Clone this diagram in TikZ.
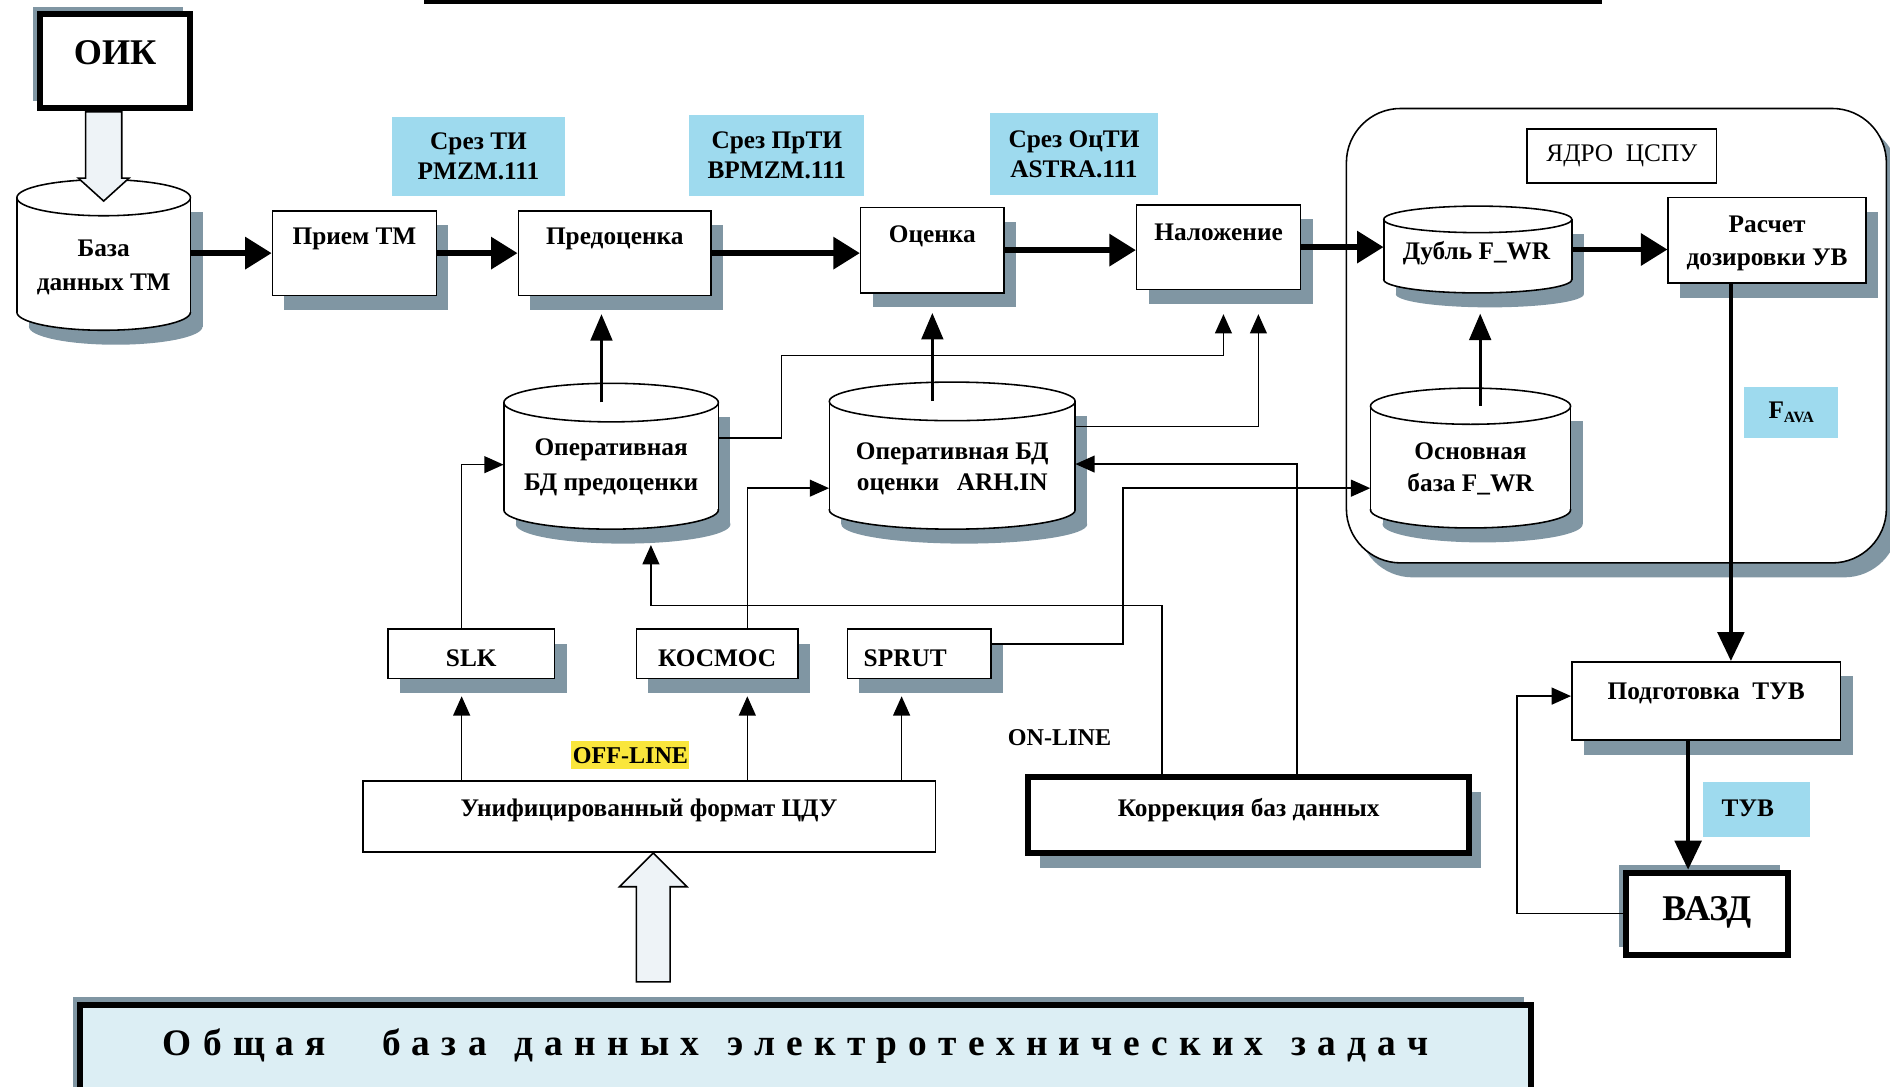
\documentclass[tikz,border=0pt]{standalone}
\usepackage{fontspec}
\setmainfont{Liberation Serif}
\usetikzlibrary{arrows.meta,shadows,calc}

\definecolor{shd}{RGB}{128,150,163}
\definecolor{tagcyan}{RGB}{158,218,238}
\definecolor{tagyellow}{RGB}{250,230,60}
\definecolor{basefill}{RGB}{220,238,244}
\definecolor{arrowfill}{RGB}{238,243,247}

% letter-spaced word for the bottom banner
\ExplSyntaxOn
\NewDocumentCommand\spreadword{m}{\tl_map_inline:nn{#1}{##1\hspace{0.3em}}}
\ExplSyntaxOff

\newcommand\lblfont{\fontsize{21}{26}\selectfont\bfseries}
\newcommand\bigfont{\fontsize{30}{34}\selectfont\bfseries}

% database cylinder: name, centre x, top y, bottom y, half width, ellipse radius
\newcommand\dbcyl[6]{%
  \fill[shd] ({#2-#5+10},{#3+12}) rectangle ({#2+#5+10},{#4+12});
  \fill[shd] ({#2+10},{#4+12}) ellipse [x radius=#5, y radius=#6];
  \fill[white] ({#2-#5},#3) rectangle ({#2+#5},#4);
  \fill[white] (#2,#4) ellipse [x radius=#5, y radius=#6];
  \fill[white] (#2,#3) ellipse [x radius=#5, y radius=#6];
  \draw[line width=1.3pt] ({#2-#5},#3) -- ({#2-#5},#4);
  \draw[line width=1.3pt] ({#2+#5},#3) -- ({#2+#5},#4);
  \begin{scope}
    \clip ({#2-#5-3},#4) rectangle ({#2+#5+3},{#4+#6+3});
    \draw[line width=1.3pt] (#2,#4) ellipse [x radius=#5, y radius=#6];
  \end{scope}
  \draw[line width=1.3pt] (#2,#3) ellipse [x radius=#5, y radius=#6];
  \node[inner sep=0pt, minimum width={2*#5}, minimum height={#4-#3}] (#1) at (#2,{(#3+#4)/2}) {};
}

\tikzset{
  lbl/.style={font=\lblfont, align=center, inner sep=0pt},
  block/.style={draw, fill=white, line width=1.3pt, inner sep=0pt},
  shadowed/.style={drop shadow={shadow xshift=10pt, shadow yshift=-12pt, fill=shd, opacity=1}},
  shadowul/.style={drop shadow={shadow xshift=-6pt, shadow yshift=6pt, fill=shd, opacity=1}},
  heavy/.style={line width=5pt},
  tag/.style={fill=tagcyan, inner sep=0pt, font=\lblfont, align=center},
  flow/.style={line width=4.5pt, -{Triangle[length=22pt,width=26pt]}},
  feed/.style={line width=2.5pt, -{Triangle[length=22pt,width=18pt]}},
  link/.style={line width=1.3pt, -{Triangle[length=16pt,width=14pt]}},
  vert/.style={line width=3.2pt, -{Triangle[length=24pt,width=22pt]}},
  hollow/.style={draw, line width=1.3pt, fill=arrowfill, line join=miter},
}

\begin{document}
\begin{tikzpicture}[x=1pt, y=-1pt]
\fill[white, use as bounding box] (0,0) rectangle (1568,901);
\clip (0,0) rectangle (1568,901);

% rule along the top edge
\draw[line width=3.5pt] (352,1.8) -- (1329,1.8);

% core container
\node[draw, fill=white, line width=1.3pt, rounded corners=45pt, shadowed,
      minimum width=448, minimum height=377] (core) at (1341,278.5) {};
\node[block, minimum width=157, minimum height=45,
      font=\fontsize{21}{26}\selectfont] (yadro) at (1345.5,129.5) {ЯДРО\hspace{0.5em}ЦСПУ};

% slice tags
\node[tag, minimum width=144, minimum height=66] (tag1) at (397,130) {Срез ТИ\\[-1pt]PMZM.111};
\node[tag, minimum width=145, minimum height=68] (tag2) at (644.5,129) {Срез ПрТИ\\[-1pt]BPMZM.111};
\node[tag, minimum width=140, minimum height=68] (tag3) at (891,128) {Срез ОцТИ\\[-1pt]ASTRA.111};
\node[tag, minimum width=78, minimum height=42] (fava) at (1486,342)
     {F\raisebox{-0.3ex}{\fontsize{13}{13}\selectfont AVA}};
\node[tag, minimum width=89, minimum height=45] (tuvtag) at (1457.5,671.5) {};
\node[lbl] (tuvtag-t) at (1450,671) {ТУВ};
\node[fill=tagyellow, inner sep=0pt, minimum width=98, minimum height=23,
      font=\fontsize{20}{24}\selectfont\bfseries] (offline) at (523,626.5) {OFF-LINE};
\node[inner sep=0pt, font=\fontsize{20}{24}\selectfont\bfseries] (online) at (879,612) {ON-LINE};

% ОИК
\node[block, heavy, shadowul, minimum width=125, minimum height=78] (oik) at (95.5,51) {};
\node[inner sep=0pt, font=\bigfont] (oik-t) at (95.5,44) {ОИК};

% databases
\dbcyl{bazatm}{86}{164}{259}{72}{15}
\dbcyl{predb}{507}{334}{423}{89}{16}
\dbcyl{ocdb}{790}{333}{423}{102}{16}
\dbcyl{dubl}{1226}{182}{232}{78}{11}
\dbcyl{osndb}{1220}{337}{423}{83}{15}

\node[lbl] (bazatm-t) at (86,222) {База\\[2pt]данных ТМ};
\node[lbl] (predb-t) at (507,388) {Оперативная\\[3pt]БД предоценки};
\node[lbl] (ocdb-t) at (790,389) {Оперативная БД\\оценки\hspace{0.7em}ARH.IN};
\node[lbl] (dubl-t) at (1225,210) {Дубль F\_WR};
\node[lbl] (osndb-t) at (1220,389) {Основная\\[1pt]база F\_WR};

% process blocks
\node[block, shadowed, minimum width=136, minimum height=70] (priem) at (294,210) {};
\node[lbl] (priem-t) at (294,198) {Прием ТМ};
\node[block, shadowed, minimum width=160, minimum height=70] (predoc) at (510,210) {};
\node[lbl] (predoc-t) at (510,198) {Предоценка};
\node[block, shadowed, minimum width=119, minimum height=71] (ocenka) at (773.5,207.5) {};
\node[lbl] (ocenka-t) at (773.5,196) {Оценка};
\node[block, shadowed, minimum width=136, minimum height=70] (nalozh) at (1011,205) {};
\node[lbl] (nalozh-t) at (1011,193) {Наложение};
\node[block, shadowed, minimum width=164, minimum height=71] (rasch) at (1466,199.5) {};
\node[lbl] (rasch-t) at (1466,202) {Расчет\\[2pt]дозировки УВ};
\node[block, shadowed, minimum width=223, minimum height=65] (podg) at (1415.5,581.5) {};
\node[lbl] (podg-t) at (1415.5,575) {Подготовка~~ТУВ};
\node[block, heavy, shadowul, minimum width=134, minimum height=68] (vazd) at (1416,758) {};
\node[inner sep=0pt, font=\bigfont] (vazd-t) at (1416,757) {ВАЗД};

\node[block, shadowed, minimum width=138, minimum height=41] (slk) at (391,542.5) {};
\node[lbl] (slk-t) at (391,546) {SLK};
\node[block, shadowed, minimum width=134, minimum height=41] (kosmos) at (595,542.5) {};
\node[lbl] (kosmos-t) at (595,546) {КОСМОС};
\node[block, shadowed, minimum width=119, minimum height=41] (sprut) at (762.5,542.5) {};
\node[lbl] (sprut-t) at (751,546) {SPRUT};

\node[block, minimum width=475, minimum height=59] (unif) at (538.5,677.5) {};
\node[lbl] (unif-t) at (538.5,672) {Унифицированный формат ЦДУ};
\node[block, heavy, shadowed, minimum width=366, minimum height=63] (korr) at (1036,676.5) {};
\node[lbl] (korr-t) at (1036,672) {Коррекция баз данных};

% common database banner
\node[draw, heavy, fill=basefill, shadowul, inner sep=0pt, anchor=north west,
      minimum width=1204, minimum height=95] (obsh) at (64,831) {};
\node[inner sep=0pt, anchor=west, font=\fontsize{31}{31}\selectfont\bfseries] (obsh-t) at (135,868)
  {\spreadword{Общая}\hspace{1.2em}\spreadword{база}\hspace{0.45em}\spreadword{данных}\hspace{0.45em}\spreadword{электротехнических}\hspace{0.45em}\spreadword{задач}};

% main telemetry chain
\draw[flow] (bazatm.east |- priem.west) -- (priem.west);
\draw[flow] (priem.east) -- (predoc.west);
\draw[flow] (predoc.east) -- (predoc.east -| ocenka.west);
\draw[flow] (ocenka.east) -- (ocenka.east -| nalozh.west);
\draw[flow] (nalozh.east) -- (nalozh.east -| dubl.west);
\draw[flow] (dubl.east) -- (dubl.east -| rasch.west);

% databases feeding the stages
\coordinate (pf) at ([xshift=-8pt]predb.north);
\coordinate (predoc-sh) at ([yshift=-15pt]predoc.south);
\draw[feed] (pf) -- (pf |- predoc-sh);
\draw[feed] (ocenka.south |- ocdb.north) -- ([yshift=-16pt]ocenka.south);
\draw[feed] ([xshift=2pt]dubl.south |- osndb.north) -- ([xshift=2pt,yshift=-28pt]dubl.south);

% links to the overlay stage
\draw[link] ([yshift=15pt]predb.east) -- ++(52,0) -- ++(0,-68.5) -| ([xshift=4pt,yshift=-20pt]nalozh.south);
\draw[link] ([yshift=24pt]ocdb.east) -| ([xshift=33pt,yshift=-20pt]nalozh.south);

% format converters
\draw[link] ([xshift=-8pt]slk.north) |- ([yshift=-7pt]predb.west);
\draw[link] ([xshift=25pt]kosmos.north) |- ([yshift=-27pt]ocdb.west);
\draw[link] ([yshift=8pt]sprut.east) -- ++(109,0) |- ([yshift=-25pt]osndb.west);

\coordinate (slk-in) at ([xshift=-8pt,yshift=-14pt]slk.south);
\coordinate (kos-in) at ([xshift=25pt,yshift=-14pt]kosmos.south);
\coordinate (spr-in) at ([xshift=-14.5pt,yshift=-14pt]sprut.south);
\draw[link] (slk-in |- unif.north) -- (slk-in);
\draw[link] (kos-in |- unif.north) -- (kos-in);
\draw[link] (spr-in |- unif.north) -- (spr-in);

% database correction
\draw[link] ([xshift=-72pt]korr.north) -- ++(0,-140) -| ([xshift=33pt,yshift=-29pt]predb.south);
\draw[link] ([xshift=40pt]korr.north) |- ([yshift=-7pt]ocdb.east);

% control output
\coordinate (ra-out) at ([xshift=-30pt]rasch.south);
\draw[vert] (ra-out) -- (ra-out |- podg.north);
\coordinate (pv) at ([xshift=-15pt]podg.south);
\draw[vert] (pv) -- (pv |- vazd.north);
\draw[link] (vazd.west) -- ++(-88,0) |- ([yshift=4pt]podg.west);

% hollow transfer arrows
\coordinate (ho) at ([yshift=-3pt]bazatm.north);
\draw[hollow] (ho) -- ++(21,-19) -- ++(-6,0) -- ++(0,-55) -- ++(-30,0) -- ++(0,55) -- ++(-6,0) -- cycle;
\coordinate (hu) at ([xshift=3.5pt]unif.south);
\draw[hollow] (hu) -- ++(28,28) -- ++(-14,0) -- ++(0,79) -- ++(-28,0) -- ++(0,-79) -- ++(-14,0) -- cycle;
\end{tikzpicture}
\end{document}
